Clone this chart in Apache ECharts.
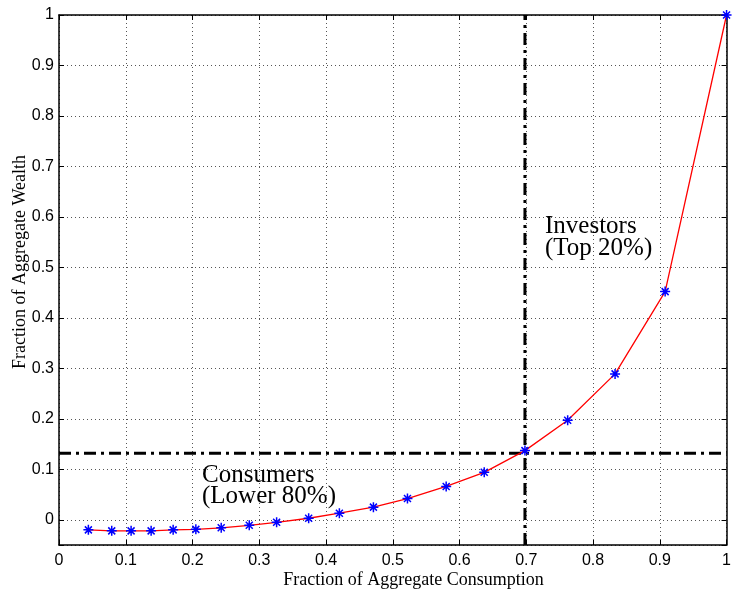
<!DOCTYPE html>
<html>
<head>
<meta charset="utf-8">
<script src="https://cdn.jsdelivr.net/npm/echarts@6/dist/echarts.min.js"></script>
<style>html,body{margin:0;padding:0;background:#fff;}#c{width:734px;height:590px;}</style>
</head>
<body>
<div id="c"></div>
<script>
// Data
const consumption = [0.044, 0.079, 0.108, 0.138, 0.171, 0.205, 0.243, 0.285, 0.326, 0.374,
                     0.420, 0.471, 0.522, 0.580, 0.637, 0.698, 0.762, 0.833, 0.908, 1.0];
const wealth      = [-0.020, -0.022, -0.022, -0.022, -0.020, -0.019, -0.016, -0.011, -0.005, 0.003,
                     0.013, 0.025, 0.042, 0.066, 0.094, 0.137, 0.197, 0.289, 0.452, 1.0];
const cutoffX = 0.698;   // vertical dash-dot line
const cutoffY = 0.132;   // horizontal dash-dot line
const xRange = [0, 1];
const yRange = [-0.05, 1];
const xTitle = 'Fraction of Aggregate Consumption';
const yTitle = 'Fraction of Aggregate Wealth';
const investorsText = 'Investors\n(Top 20%)';
const consumersText = 'Consumers\n(Lower 80%)';

const curve = consumption.map((x, i) => [x, wealth[i]]);
const hLine = [[xRange[0], cutoffY], [xRange[1], cutoffY]];
const vLine = [[cutoffX, yRange[0]], [cutoffX, yRange[1]]];

const chart = echarts.init(document.getElementById('c'), null, {renderer: 'canvas'});
const sans = '"Liberation Sans", Arial, sans-serif';
const serif = '"Liberation Serif", "Times New Roman", serif';
const grid = {left: 59, right: 3, top: 15, bottom: 45, containLabel: false};
const dotted = {show: true, lineStyle: {color: '#555', width: 1, type: [1, 3]}};
const axisLine = {show: true, onZero: false, lineStyle: {color: '#000', width: 1.5}};
const tick = {show: true, inside: true, length: 5, lineStyle: {color: '#000', width: 1}};
const dashDot = {color: '#000', width: 3, type: [12, 5, 3, 5]};

chart.setOption({
  animation: false,
  backgroundColor: '#fff',
  grid: grid,
  xAxis: [{
    type: 'value', min: xRange[0], max: xRange[1], interval: 0.1,
    axisLine: axisLine, axisTick: tick, splitLine: dotted,
    axisLabel: {color: '#000', fontFamily: sans, fontSize: 16, margin: 8,
      formatter: v => String(Math.round(v * 10) / 10)}
  }, {
    type: 'value', position: 'top', min: xRange[0], max: xRange[1], interval: 0.1,
    axisLine: axisLine, axisTick: tick, splitLine: {show: false}, axisLabel: {show: false}
  }],
  yAxis: [{
    type: 'value', min: yRange[0], max: yRange[1], splitNumber: 10,
    axisLine: axisLine, axisTick: tick, splitLine: dotted,
    axisLabel: {color: '#000', fontFamily: sans, fontSize: 16, margin: 5,
      formatter: v => (v < -0.01 ? '' : String(Math.round(v * 10) / 10))}
  }, {
    type: 'value', position: 'right', min: yRange[0], max: yRange[1], splitNumber: 10,
    axisLine: axisLine, axisTick: tick, splitLine: {show: false}, axisLabel: {show: false}
  }],
  series: [{
    type: 'line', data: hLine, symbol: 'none', lineStyle: dashDot, z: 3, silent: true
  }, {
    type: 'line', data: vLine, symbol: 'none', lineStyle: dashDot, z: 3, silent: true
  }, {
    type: 'line', data: curve, z: 5,
    lineStyle: {color: '#ff0000', width: 1.3},
    symbol: 'path://M5 0 L5 10 M0 5 L10 5 M1.5 1.5 L8.5 8.5 M1.5 8.5 L8.5 1.5',
    symbolSize: 10, showAllSymbol: true,
    itemStyle: {color: '#0000ff', borderColor: '#0000ff', borderWidth: 1.5}
  }],
  graphic: [{
    type: 'text', x: 413.5, y: 580,
    style: {text: xTitle, fontFamily: serif, fontSize: 18, fill: '#000', align: 'center', verticalAlign: 'middle'}
  }, {
    type: 'text', x: 20, y: 262, rotation: Math.PI / 2,
    style: {text: yTitle, fontFamily: serif, fontSize: 18, fill: '#000', align: 'center', verticalAlign: 'middle'}
  }, {
    type: 'text', x: 545, y: 215,
    style: {text: investorsText, fontFamily: serif, fontSize: 25, lineHeight: 22, fill: '#000', align: 'left', verticalAlign: 'top'}
  }, {
    type: 'text', x: 202, y: 465,
    style: {text: consumersText, fontFamily: serif, fontSize: 25, lineHeight: 21, fill: '#000', align: 'left', verticalAlign: 'top'}
  }]
});
</script>
</body>
</html>
